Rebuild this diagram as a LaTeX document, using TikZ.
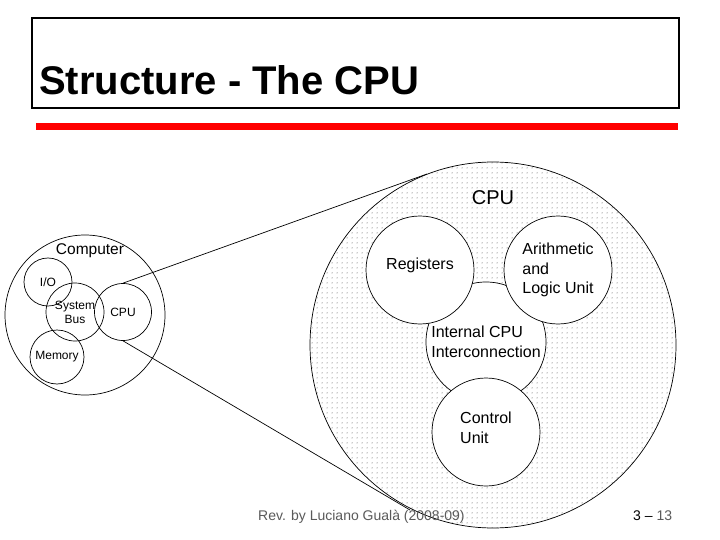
\documentclass[tikz,border=0pt]{standalone}
\usepackage{fontspec}
\setmainfont{Liberation Sans}
\usetikzlibrary{patterns.meta}
\tikzdeclarepattern{
  name=sparsedots,
  type=uncolored,
  bounding box={(0pt,0pt) and (5pt,5pt)},
  tile size={(5pt,5pt)},
  code={\fill (2.5pt,2.5pt) circle (0.55pt);}
}
\definecolor{footgray}{RGB}{90,90,90}
\begin{document}
\begin{tikzpicture}[x=1pt,y=-1pt,
  part/.style={circle, draw, fill=white, inner sep=0pt, line width=0.7pt,
    font=\fontsize{16}{19.5}\selectfont, align=left},
  smallpart/.style={circle, draw, inner sep=0pt, line width=0.7pt,
    font=\fontsize{12}{14}\selectfont, align=center},
  conn/.style={line width=0.7pt},
  foot/.style={anchor=base west, inner sep=0pt, font=\fontsize{14}{14}\selectfont}
]
\useasboundingbox (0,0) rectangle (720,540);
\fill[white] (0,0) rectangle (720,540);

% title
\draw[line width=1.2pt] (32,18) rectangle (679,108);
\node[anchor=base west, inner sep=0pt, font=\fontsize{40}{40}\selectfont\bfseries] (title) at (39,95) {Structure - The CPU};
\fill[red] (36,123) rectangle (678,130);

% big CPU
\node[circle, draw, line width=0.7pt, minimum size=366pt, inner sep=0pt,
      preaction={fill=white}, pattern={sparsedots}, pattern color=black!85] (bigcpu) at (493,345) {};
\node[font=\fontsize{20}{20}\selectfont, inner sep=0pt] (cpulabel) at (493,198) {CPU};
\node[part, minimum size=120pt] (icc) at (486,342) {Internal CPU\\Interconnection};
\node[part, minimum size=108pt] (reg) at (420,270) {Registers\\[-6pt]};
\node[part, minimum size=108pt] (alu) at (558,270) {Arithmetic\\and\\Logic Unit};
\node[part, minimum size=108pt] (cu) at (486,432) {Control\\Unit\\[-11pt]};

% small computer
\node[circle, draw, line width=0.7pt, minimum size=160pt, inner sep=0pt] (computer) at (85,315) {};
\node[font=\fontsize{15.5}{16}\selectfont, inner sep=0pt] (complabel) at (90,251) {Computer};
\node[smallpart, minimum size=48pt] (io) at (48,282) {I/O};
\node[smallpart, minimum size=58pt] (sysbus) at (75,312) {System\\Bus};
\node[smallpart, minimum size=57pt] (scpu) at (123,312) {CPU};
\node[smallpart, minimum size=54pt] (memory) at (57,357) {Memory};

% connectors
\coordinate (topend) at (427,174);
\coordinate (botend) at (410,510);
\draw[conn] (scpu.north) -- (topend);
\draw[conn] (scpu.south) -- (botend);

% footer
\node[foot, text=footgray] (rev) at (258,520) {Rev. by Luciano Gualà (2008-09)};
\node[foot] (page) at (633,520) {3 – \textcolor{footgray}{13}};
\end{tikzpicture}
\end{document}
